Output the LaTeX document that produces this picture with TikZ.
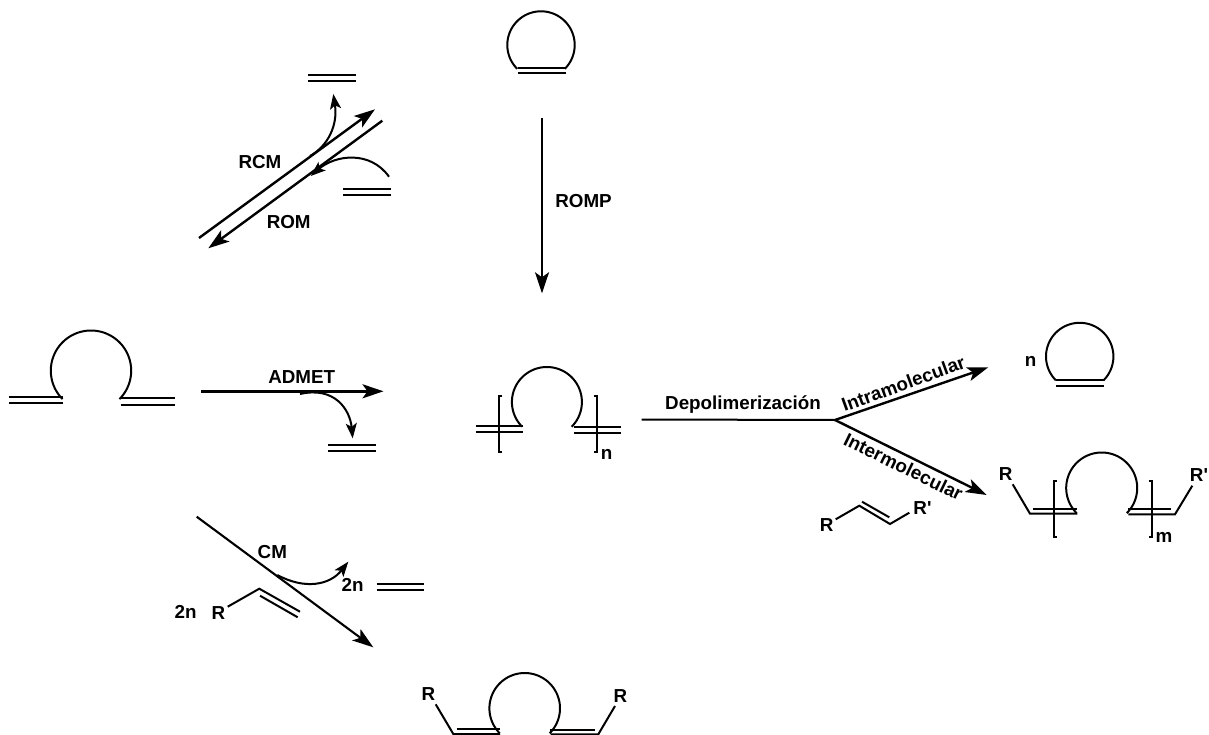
\documentclass[tikz,border=0pt]{standalone}
\usepackage{fontspec}
\setmainfont{Liberation Sans}
\usetikzlibrary{arrows.meta}
\tikzset{
  bond/.style={line width=2pt,line cap=butt,line join=miter},
  rxn/.style={line width=2.4pt,-{Stealth[length=21pt,width=14pt,inset=5pt]}},
  rxnplain/.style={line width=2pt},
  curved/.style={line width=2pt,-{Stealth[length=15pt,width=11pt,inset=3.5pt]}},
  lab/.style={inner sep=0pt,font=\fontsize{18.8}{20}\selectfont\bfseries},
}
\newcommand{\ringarc}[3]{\draw[bond] plot[domain=135:405,samples=70,smooth] ({#1+#3*cos(\x)},{#2+#3*sin(\x)});}
\begin{document}
\begin{tikzpicture}[x=1pt,y=-1pt]
\useasboundingbox (0,0) rectangle (1209,735);
% --- top ring
\ringarc{541}{45}{33.7}
\draw[bond] (517.5,68.3)--(565.5,68.3) (517.5,73.2)--(565.5,73.2);
% --- RCM / ROM
\coordinate (rcmS) at (199,238); \coordinate (rcmE) at (375,109.3);
\coordinate (romS) at (382.3,120.7); \coordinate (romE) at (208.3,248.3);
\draw[rxn] (rcmS)--(rcmE);
\draw[rxn] (romS)--(romE);
\coordinate (c1s) at (310,156); \coordinate (c1e) at (333.3,94);
\draw[curved] (c1s) .. controls (328,146) and (338,125) .. (c1e);
\coordinate (c2s) at (389,176.7); \coordinate (c2e) at (310.7,176);
\draw[curved] (c2s) .. controls (370,150) and (335,155) .. (c2e);
\draw[bond] (308.3,75)--(355.7,75) (308.3,80.7)--(355.7,80.7);
\draw[bond] (343.3,188.7)--(391,188.7) (343.3,195)--(391,195);
\node[lab] (rcm) at (260,161.7) {RCM};
\node[lab] (rom) at (288.7,222.3) {ROM};
% --- ROMP
\coordinate (rompS) at (542,117.7); \coordinate (rompE) at (542,293.3);
\draw[rxn] (rompS)--(rompE);
\node[lab] (romp) at (583.5,201) {ROMP};
% --- left diene
\ringarc{91}{370.7}{40.2}
\draw[bond] (9.3,396.7)--(62.7,396.7) (9.3,403.3)--(62.7,403.3);
\draw[bond] (120.7,398)--(174.7,398) (120.7,404.7)--(174.7,404.7);
% --- ADMET
\coordinate (admS) at (201,391.3); \coordinate (admE) at (383.5,391.3);
\draw[rxn] (admS)--(admE);
\node[lab] (admet) at (301.7,376.7) {ADMET};
\coordinate (c3s) at (300,394); \coordinate (c3e) at (352.7,438.3);
\draw[curved] (c3s) .. controls (335,386) and (350,410) .. (c3e);
\draw[bond] (328.3,445)--(375.7,445) (328.3,450.7)--(375.7,450.7);
% --- polymer
\ringarc{546.9}{402}{35}
\draw[bond] (475.5,426)--(523,426) (475.5,431.7)--(523,431.7);
\draw[bond] (573.8,427.3)--(620.7,427.3) (573.8,433)--(620.7,433);
\draw[bond] (502.4,396)--(499,396)--(499,451.7)--(502.4,451.7);
\draw[bond] (593.8,396)--(597.2,396)--(597.2,451.7)--(593.8,451.7);
\node[lab] (n1) at (606.5,454) {n};
% --- depolymerisation
\coordinate (depS) at (641.5,419.5); \coordinate (fork) at (835,420);
\coordinate (intraE) at (988.3,367.3); \coordinate (interE) at (986.7,495);
\draw[rxnplain] (depS)--(fork);
\draw[rxn] (fork)--(intraE);
\draw[rxn] (fork)--(interE);
\node[lab] (dep) at (743,404.5) {Depolimerización};
\node[lab,rotate=20] (intra) at (903.3,383.5) {Intramolecular};
\node[lab,rotate=-26] (inter) at (903.5,466.7) {Intermolecular};
% --- n ring
\node[lab] (n2) at (1030.7,361.7) {n};
\ringarc{1079.7}{356.5}{33.7}
\draw[bond] (1056,380)--(1103.5,380) (1056,385.7)--(1103.5,385.7);
% --- alkene R R'
\node[lab] (ra) at (826.7,525) {R};
\node[lab] (rb) at (922.5,507.7) {R\textquotesingle};
\coordinate (a1) at (859.3,505.7); \coordinate (a2) at (890,524);
\draw[bond] (835.7,519.3) -- (a1) -- (a2) -- (909.3,512.7);
\draw[bond] (862,501.7)--(889.3,517.3);
% --- product m
\node[lab] (rc) at (1005.7,474.3) {R};
\node[lab] (rd) at (1199,475) {R\textquotesingle};
\ringarc{1101.7}{488}{35.5}
\draw[bond] (1012.7,484.3)--(1030,513.7)--(1077.3,513.7);
\draw[bond] (1033.3,508.5)--(1077.3,508.5);
\draw[bond] (1128.3,514.3)--(1175,514.3)--(1192.3,485.7);
\draw[bond] (1128.3,509.3)--(1171,509.3);
\draw[bond] (1056.7,480.7)--(1054.3,480.7)--(1054.3,536.7)--(1056.7,536.7);
\draw[bond] (1148.5,480.7)--(1151.7,480.7)--(1151.7,536.7)--(1148.5,536.7);
\node[lab] (m) at (1164,537.5) {m};
% --- CM
\coordinate (cmS) at (196.7,516.7); \coordinate (cmE) at (373.3,647.3);
\draw[rxn,line width=2.1pt] (cmS)--(cmE);
\node[lab] (cm) at (272.3,551.7) {CM};
\coordinate (c4s) at (277.3,575); \coordinate (c4e) at (348.3,561.7);
\draw[curved] (c4s) .. controls (305,590) and (330,585) .. (c4e);
\node[lab] (tn1) at (352.7,585.3) {2n};
\draw[bond] (376.7,584)--(424,584) (376.7,590)--(424,590);
\node[lab] (tn2) at (185.7,612.3) {2n};
\node[lab] (re) at (218.3,612.7) {R};
\draw[bond] (227.7,606.7)--(259.3,588.7)--(300,611.7);
\draw[bond] (260,595.7)--(297.7,617.3);
% --- bottom product
\node[lab] (rf) at (428.3,694.3) {R};
\node[lab] (rg) at (620.3,695.7) {R};
\ringarc{524.7}{708.3}{35.3}
\draw[bond] (435.7,704.3)--(453.3,734)--(500,734);
\draw[bond] (456.7,728.7)--(500,728.7);
\draw[bond] (550,730)--(595,730);
\draw[bond] (550.7,734.3)--(598.3,734.3)--(615,706);
\end{tikzpicture}
\end{document}
